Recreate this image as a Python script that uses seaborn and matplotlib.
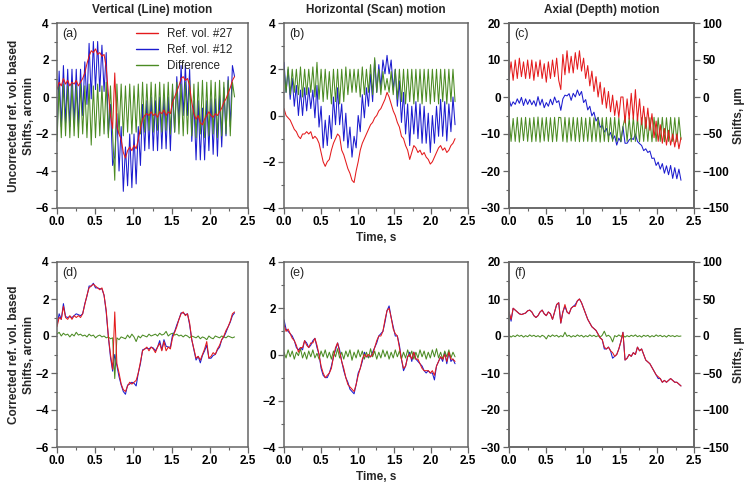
import numpy as np
import pandas as pd
import seaborn as sns
import matplotlib.pyplot as plt
from matplotlib.ticker import MultipleLocator

sns.set_style('ticks')
plt.rcParams['font.family'] = ['Liberation Sans', 'DejaVu Sans']
plt.rcParams['font.weight'] = 'bold'
plt.rcParams['axes.labelweight'] = 'bold'
plt.rcParams['axes.titleweight'] = 'bold'

# sampling step of the traces (s)
DT = 0.028

# ---- (a) vertical, uncorrected ----
a_red = [0.4, 0.8, 0.6, 1.0, 0.7, 0.9, 0.6, 0.8, 0.7, 0.9,
         0.6, 0.8, 1.0, 1.3, 1.8, 2.2, 2.5, 2.4, 2.6, 2.3,
         2.4, 2.2, 2.3, 1.6, 0.2, -1.0, -1.7, 1.3, -1.6, -2.0,
         -2.3, -3.0, -3.3, -2.9, -2.7, -2.9, -2.6, -2.8, -2.3, -1.7,
         -1.2, -1.0, -0.9, -1.0, -0.8, -1.0, -0.9, -1.1, -0.8, -0.9,
         -0.7, -1.0, -0.8, -0.9, -0.3, 0.0, 0.3, 0.6, 1.0, 1.1,
         0.9, 1.0, 0.6, -0.3, -0.9, -1.2, -1.0, -1.4, -1.5, -1.2,
         -1.0, -0.8, -1.0, -1.1, -0.9, -1.0, -0.8, -0.6, -0.3, -0.1,
         0.2, 0.5, 0.9, 1.1]
a_blue = [-2.0, 1.4, -1.6, 1.7, -1.4, 1.5, -1.6, 1.5, -1.4, 1.5,
          -1.6, 1.5, -1.0, 1.9, -0.4, 2.9, -0.1, 3.0, 0.4, 3.0,
          0.3, 2.8, 0.3, 2.4, -2.0, -0.4, -3.7, -3.2, -0.9, -4.0,
          -1.6, -5.1, -2.7, -4.8, -2.0, -4.9, -2.0, -4.7, -1.6, -3.7,
          -0.4, -2.9, -0.2, -2.8, 0.0, -2.9, -0.2, -2.9, 0.0, -2.8,
          0.0, -2.8, 0.0, -2.9, 0.4, -1.9, 1.1, -1.4, 1.7, -1.0,
          1.7, -1.0, 1.5, -2.4, -0.2, -3.4, -0.2, -3.4, -0.6, -3.4,
          -0.2, -2.9, -0.1, -3.1, -0.1, -3.2, 0.1, -2.7, 0.5, -2.1,
          1.1, -1.6, 1.7, 1.1]
a_diff = [-2.4, 0.6, -2.2, 0.7, -2.1, 0.6, -2.2, 0.7, -2.1, 0.6,
          -2.2, 0.7, -2.0, 0.6, -2.2, 0.7, -2.6, 0.6, -2.2, 0.7,
          -2.1, 0.6, -2.0, 0.8, -2.2, 0.6, -2.0, -4.5, 0.7, -2.0,
          0.7, -2.1, 0.6, -1.9, 0.7, -2.0, 0.6, -1.9, 0.7, -2.0,
          0.8, -1.9, 0.7, -1.8, 0.8, -1.9, 0.7, -1.8, 0.8, -1.9,
          0.7, -1.8, 0.8, -2.0, 0.7, -1.9, 0.8, -2.0, 0.7, -2.1,
          0.8, -2.0, 0.9, -2.1, 0.7, -2.2, 0.8, -2.0, 0.9, -2.2,
          0.8, -2.1, 0.9, -2.0, 0.8, -2.2, 0.9, -2.1, 0.8, -2.0,
          0.9, -2.1, 0.8, 0.0]

# ---- (b) horizontal, uncorrected ----
b_red = [0.3, 0.0, -0.1, -0.2, -0.4, -0.6, -0.7, -0.9, -1.0, -0.8,
         -0.8, -0.7, -0.8, -0.7, -1.0, -0.9, -1.0, -1.2, -1.6, -2.0,
         -2.2, -2.0, -1.9, -1.5, -1.2, -1.0, -0.8, -0.9, -1.5, -1.7,
         -2.0, -2.3, -2.5, -2.8, -2.9, -2.4, -2.0, -1.5, -1.2, -1.0,
         -0.8, -0.6, -0.4, -0.3, -0.1, 0.0, 0.2, 0.3, 0.5, 0.7,
         1.0, 0.8, 0.5, 0.2, 0.0, -0.3, -0.5, -0.9, -1.0, -1.3,
         -1.5, -1.9, -1.6, -1.3, -1.4, -1.6, -1.5, -1.7, -1.6, -1.8,
         -1.9, -2.1, -2.0, -1.8, -1.6, -1.4, -1.3, -1.5, -1.4, -1.6,
         -1.5, -1.3, -1.2, -1.0]
b_blue = [2.3, 1.0, 2.0, 0.7, 1.6, 0.4, 1.3, 0.0, 1.1, 0.0,
          1.2, 0.2, 1.2, 0.3, 1.1, -0.1, 1.3, -0.5, 0.4, -1.4,
          -0.2, -1.3, 0.0, -1.0, 0.8, -0.4, 1.2, -0.4, 0.5, -1.1,
          0.1, -1.4, -0.5, -1.8, -0.9, -1.4, 0.0, -0.7, 0.9, -0.1,
          1.2, 0.4, 1.8, 0.6, 2.4, 1.0, 2.2, 1.2, 2.4, 1.8,
          2.6, 1.8, 2.4, 1.1, 2.0, 0.4, 1.5, -0.3, 1.0, -0.8,
          0.5, -1.3, 0.4, -0.8, 0.6, -1.0, 0.5, -1.2, 0.4, -1.2,
          0.1, -1.6, 0.0, -1.2, 0.4, -0.9, 0.7, -0.9, 0.6, -1.1,
          0.5, -0.7, 0.8, -0.4]
b_diff = [2.0, 1.0, 2.1, 0.9, 2.0, 1.0, 2.0, 0.9, 2.1, 0.8,
          2.0, 0.9, 2.0, 1.0, 2.1, 0.8, 2.3, 0.7, 2.0, 0.6,
          2.0, 0.7, 1.9, 0.5, 2.0, 0.6, 2.0, 0.5, 2.0, 0.6,
          2.1, 0.9, 2.0, 1.0, 2.0, 1.0, 2.0, 0.8, 2.1, 0.9,
          2.0, 1.0, 2.2, 0.9, 2.5, 1.0, 2.0, 0.9, 1.9, 1.1,
          1.6, 1.0, 1.9, 0.9, 2.0, 0.7, 2.0, 0.6, 2.0, 0.5,
          2.0, 0.6, 2.0, 0.5, 2.0, 0.6, 2.0, 0.5, 2.0, 0.6,
          2.0, 0.5, 2.0, 0.6, 2.0, 0.5, 2.0, 0.6, 2.0, 0.5,
          2.0, 0.6, 2.0, 0.6]

# ---- (c) axial, uncorrected ----
c_red = [5.0, 9.5, 4.5, 10.0, 5.0, 10.5, 5.5, 9.5, 5.0, 10.0,
         5.0, 10.0, 4.5, 9.5, 5.5, 10.0, 5.0, 9.0, 4.0, 9.5,
         5.0, 10.0, 5.5, 10.5, 4.5, 2.0, 11.5, 6.0, 12.5, 6.5,
         11.0, 6.5, 12.0, 7.5, 12.5, 7.0, 10.5, 5.0, 8.5, 3.0,
         7.0, 1.5, 5.5, 0.0, 4.0, -2.0, 2.5, -3.0, 1.5, -4.0,
         0.5, -5.0, -1.0, -5.5, 0.0, 0.0, -7.0, -0.5, -6.0, 1.0,
         -6.0, 2.0, -6.5, -0.5, -7.5, -2.5, -8.5, -3.0, -9.0, -4.5,
         -11.0, -6.5, -12.0, -7.5, -12.5, -8.5, -13.0, -9.0, -13.0, -10.0,
         -13.5, -10.0, -14.0, -11.0]
c_blue = [-0.5, -2.5, -1.3, -2.0, -0.5, -1.7, -0.1, -2.3, -0.5, -2.0,
          -0.7, -2.1, -1.0, -2.5, 0.1, -2.2, -0.6, -2.9, -1.5, -2.5,
          -0.6, -2.1, 0.0, -1.5, -1.0, -3.6, -0.5, 0.5, 0.3, 0.9,
          -0.9, 1.0, 0.0, 1.9, 0.4, 1.5, -1.5, -0.7, -3.5, -2.5,
          -5.1, -4.1, -6.5, -5.5, -8.2, -7.6, -9.5, -8.5, -10.6, -9.6,
          -11.5, -10.5, -13.0, -11.1, -12.1, -8.0, -12.5, -12.5, -11.6, -11.1,
          -11.5, -10.0, -12.0, -12.6, -13.1, -14.5, -14.0, -15.0, -14.6, -16.6,
          -16.5, -18.5, -17.6, -19.5, -18.0, -20.6, -18.6, -21.0, -18.5, -22.0,
          -19.1, -22.1, -19.5, -22.5]
c_diff = [-5.5, -12.0, -5.8, -12.0, -5.5, -12.2, -5.6, -11.8, -5.5, -12.0,
          -5.7, -12.1, -5.5, -12.0, -5.4, -12.2, -5.6, -11.9, -5.5, -12.0,
          -5.6, -12.1, -5.5, -12.0, -5.5, -5.6, -12.0, -5.5, -12.2, -5.6,
          -11.9, -5.5, -12.0, -5.6, -12.1, -5.5, -12.0, -5.7, -12.0, -5.5,
          -12.1, -5.6, -12.0, -5.5, -12.2, -5.6, -12.0, -5.5, -12.1, -5.6,
          -12.0, -5.5, -12.0, -5.6, -12.1, -8.0, -5.5, -12.0, -5.6, -12.1,
          -5.5, -12.0, -5.5, -12.1, -5.6, -12.0, -5.5, -12.0, -5.6, -12.1,
          -5.5, -12.0, -5.6, -12.0, -5.5, -12.1, -5.6, -12.0, -5.5, -12.0,
          -5.6, -12.1, -5.5, -11.5]

# ---- (d) vertical, corrected ----
d_red = [0.5, 1.0, 0.9, 1.6, 1.0, 0.9, 1.1, 0.9, 1.1, 1.0,
         1.1, 1.0, 1.2, 1.7, 2.2, 2.6, 2.7, 2.8, 2.7, 2.6,
         2.5, 2.6, 2.2, 1.4, 0.0, -1.0, -1.8, 1.3, -1.5, -2.0,
         -2.6, -2.9, -3.0, -2.7, -2.5, -2.6, -2.5, -2.4, -2.0, -1.4,
         -0.8, -0.7, -0.6, -0.8, -0.6, -0.7, -0.9, -0.6, -0.4, -0.8,
         -0.3, -0.8, -0.6, -0.7, -0.1, 0.2, 0.5, 0.9, 1.2, 1.3,
         1.1, 1.2, 0.7, -0.2, -0.7, -1.2, -1.1, -1.3, -1.0, -0.7,
         -0.3, -1.2, -1.1, -0.9, -1.0, -0.7, -0.5, -0.2, 0.0, 0.3,
         0.5, 0.8, 1.2, 1.3]
d_blue = [0.6, 1.2, 0.9, 1.75, 1.05, 1.0, 1.05, 1.0, 1.1, 1.2,
          1.15, 1.1, 1.2, 1.75, 2.15, 2.7, 2.7, 2.85, 2.6, 2.6,
          2.55, 2.55, 2.2, 1.3, -0.05, -1.15, -1.9, -1.0, -1.6, -2.2,
          -2.65, -3.0, -3.15, -2.65, -2.6, -2.5, -2.55, -2.7, -2.0, -1.5,
          -0.75, -0.7, -0.65, -0.7, -0.6, -0.65, -0.8, -0.6, -0.25, -0.75,
          -0.2, -0.55, -0.6, -0.6, 0.05, 0.25, 0.6, 0.9, 1.25, 1.25,
          1.15, 1.2, 0.6, -0.2, -0.75, -1.3, -1.1, -1.45, -1.05, -0.8,
          -0.5, -1.2, -1.2, -1.05, -1.0, -0.75, -0.6, -0.2, -0.05, 0.2,
          0.5, 0.75, 1.1, 1.25]
d_diff = [0.1, 0.2, 0.0, 0.15, 0.05, 0.1, -0.05, 0.1, 0.0, 0.2,
          0.05, 0.1, 0.0, 0.05, -0.05, 0.1, 0.0, 0.05, -0.1, 0.0,
          0.05, -0.05, 0.0, -0.1, -0.05, -0.15, -0.1, -2.3, -0.1, -0.2,
          -0.05, -0.1, -0.15, 0.05, -0.1, 0.1, -0.05, -0.3, 0.0, -0.1,
          0.05, 0.0, -0.05, 0.1, 0.0, 0.05, 0.1, 0.0, 0.15, 0.05,
          0.1, 0.25, 0.0, 0.1, 0.15, 0.05, 0.1, 0.0, 0.05, -0.05,
          0.05, 0.0, -0.1, 0.0, -0.05, -0.1, 0.0, -0.15, -0.05, -0.1,
          -0.2, 0.0, -0.1, -0.15, 0.0, -0.05, -0.1, 0.0, -0.05, -0.1,
          0.0, -0.05, -0.1, -0.05]

# ---- (e) horizontal, corrected ----
e_red = [1.3, 1.0, 1.1, 0.9, 0.7, 0.6, 0.4, 0.1, 0.3, 0.3,
         0.6, 0.4, 0.3, 0.5, 0.5, 0.7, 0.4, 0.0, -0.5, -0.8,
         -1.0, -0.9, -0.8, -0.6, -0.1, 0.3, 0.5, 0.1, -0.3, -0.6,
         -1.0, -1.3, -1.4, -1.5, -1.6, -1.3, -0.9, -0.6, -0.2, 0.0,
         -0.1, 0.0, -0.1, 0.0, 0.3, 0.6, 0.8, 0.8, 1.0, 1.5,
         1.9, 2.0, 1.6, 1.1, 0.9, 0.8, 0.3, -0.2, -0.6, -0.5,
         -0.1, 0.0, -0.2, 0.1, -0.2, -0.2, -0.4, -0.6, -0.7, -0.7,
         -0.7, -0.8, -0.7, -0.9, -0.5, -0.3, -0.1, -0.2, 0.0, -0.3,
         0.1, -0.2, -0.2, -0.3]
e_blue = [1.5, 1.1, 1.0, 0.9, 0.8, 0.6, 0.3, 0.2, 0.3, 0.2,
          0.6, 0.5, 0.3, 0.4, 0.6, 0.7, 0.3, 0.0, -0.6, -0.9,
          -1.0, -1.0, -0.8, -0.5, -0.1, 0.2, 0.5, 0.2, -0.3, -0.7,
          -1.0, -1.2, -1.5, -1.6, -1.7, -1.3, -0.8, -0.6, -0.3, 0.1,
          -0.1, -0.1, -0.1, 0.1, 0.3, 0.5, 0.8, 0.9, 1.0, 1.4,
          1.9, 2.1, 1.6, 1.2, 0.8, 0.8, 0.4, -0.2, -0.7, -0.5,
          -0.1, 0.1, -0.3, 0.1, -0.2, -0.3, -0.4, -0.5, -0.7, -0.8,
          -0.7, -0.8, -0.8, -1.1, -0.5, -0.3, -0.1, -0.3, 0.1, -0.4,
          0.1, -0.3, -0.2, -0.4]
e_diff = [0.1, -0.15, 0.2, -0.1, 0.15, -0.2, 0.1, -0.05, 0.25, -0.15,
          0.1, -0.2, 0.15, -0.1, 0.2, -0.15, 0.05, -0.2, 0.15, -0.1,
          0.2, -0.15, 0.1, -0.2, 0.15, -0.1, 0.25, -0.15, 0.1, -0.2,
          0.15, -0.1, 0.2, -0.25, 0.1, -0.15, 0.2, -0.1, 0.15, -0.2,
          0.1, -0.15, 0.25, -0.1, 0.15, -0.2, 0.1, -0.15, 0.2, -0.1,
          0.15, -0.2, 0.1, -0.15, 0.2, -0.1, 0.15, -0.2, 0.1, -0.15,
          0.2, -0.1, 0.15, -0.2, 0.1, -0.15, 0.2, -0.1, 0.15, -0.2,
          0.1, -0.15, 0.2, -0.1, 0.25, -0.15, 0.1, -0.2, 0.15, -0.1,
          0.2, -0.15, 0.1, -0.1]

# ---- (f) axial, corrected ----
f_red = [6.5, 4.5, 7.5, 7.0, 6.5, 6.0, 5.8, 6.0, 6.2, 6.8,
         7.0, 6.5, 5.5, 5.0, 5.5, 6.5, 7.0, 6.0, 5.5, 6.5,
         6.0, 4.5, 6.5, 8.5, 9.0, 3.5, 6.5, 8.5, 6.5, 6.0,
         7.5, 8.0, 8.0, 9.5, 10.0, 9.0, 7.5, 6.0, 4.5, 3.5,
         2.5, 2.0, 1.5, 0.5, -0.5, -1.0, -3.0, -3.5, -3.0, -4.0,
         -4.5, -5.5, -5.0, -3.5, -1.5, 1.0, -6.5, -6.0, -5.0, -5.5,
         -4.5, -5.0, -3.0, -4.0, -3.5, -5.0, -6.5, -7.0, -7.5, -8.5,
         -9.5, -10.5, -11.0, -11.5, -12.5, -12.0, -12.5, -12.0, -11.5, -12.0,
         -12.5, -12.5, -13.0, -13.5]
f_blue = [6.5, 4.0, 7.5, 7.0, 6.5, 6.0, 5.8, 6.0, 6.2, 6.8,
          7.0, 6.5, 5.5, 5.0, 5.5, 6.5, 7.0, 6.0, 5.5, 6.5,
          6.0, 4.5, 6.5, 8.5, 9.0, 3.5, 6.5, 8.0, 6.5, 6.0,
          7.5, 8.0, 8.5, 9.5, 10.0, 9.0, 7.5, 6.0, 4.5, 3.5,
          2.5, 2.0, 1.5, 0.5, -0.5, -1.0, -3.5, -3.5, -3.0, -4.0,
          -6.0, -5.5, -5.0, -3.5, -1.5, 1.0, -6.5, -6.0, -5.0, -5.5,
          -4.5, -5.0, -3.0, -4.0, -3.5, -5.0, -6.5, -7.0, -7.5, -8.5,
          -9.5, -10.5, -11.5, -11.5, -12.5, -12.0, -12.5, -12.0, -11.5, -12.0,
          -12.5, -12.5, -13.0, -13.5]
f_diff = [0.2, -0.3, 0.1, -0.2, 0.3, -0.1, 0.2, -0.3, 0.1, -0.2,
          0.3, -0.1, 0.2, -0.2, 0.1, -0.3, 0.2, -0.1, -0.8, 0.2,
          -0.2, 0.3, -0.1, 0.2, -0.3, 0.1, -0.2, 1.0, -0.1, 0.2,
          -0.3, 0.1, -0.2, 0.3, -0.1, 0.2, -0.3, 0.1, -0.2, 0.3,
          -0.1, 0.2, -0.2, 0.1, -0.3, 0.2, 1.3, -0.1, 0.2, -0.3,
          -1.6, 0.1, -0.2, 0.3, -0.1, 0.2, -0.3, 0.1, -0.2, 0.2,
          -0.1, 0.3, -0.2, 0.1, -0.3, 0.2, -0.1, 0.2, -0.3, 0.1,
          -0.2, 0.3, -0.1, 0.2, -0.2, 0.1, -0.3, 0.2, -0.1, 0.1,
          -0.2, 0.1, -0.1, 0.0]

titles = ['Vertical (Line) motion', 'Horizontal (Scan) motion', 'Axial (Depth) motion']
tags = ['(a)', '(b)', '(c)', '(d)', '(e)', '(f)']
series_names = ['Ref. vol. #27', 'Ref. vol. #12', 'Difference']

RED = '#e41a1c'
BLUE = '#1c1ccf'
GREEN = '#4b8b23'
SPINE = '#666666'
LW = 0.75

panels = [
    (a_red, a_blue, a_diff, (-6, 4), 2),
    (b_red, b_blue, b_diff, (-4, 4), 2),
    (c_red, c_blue, c_diff, (-30, 20), 10),
    (d_red, d_blue, d_diff, (-6, 4), 2),
    (e_red, e_blue, e_diff, (-4, 4), 2),
    (f_red, f_blue, f_diff, (-30, 20), 10),
]

fig = plt.figure(figsize=(7.46, 4.87), dpi=100)
W, Hf = 746, 487
cols = [(57, 191), (284, 184), (509, 185)]
tops = [23, 262]
PH = 185


def style_axis(ax):
    for sp in ax.spines.values():
        sp.set_visible(True)
        sp.set_color(SPINE)
        sp.set_linewidth(1.1)
    ax.tick_params(which='major', direction='out', length=4, width=0.9,
                   color=SPINE, labelsize=8.5, pad=2, labelcolor='black')
    ax.tick_params(which='minor', direction='out', length=2.5, width=0.8, color=SPINE)


for k, (red, blue, diff, ylim, ystep) in enumerate(panels):
    r, c = divmod(k, 3)
    left, w = cols[c]
    ax = fig.add_axes([left / W, 1 - (tops[r] + PH) / Hf, w / W, PH / Hf])
    t = np.arange(len(red)) * DT
    # blue first, then difference, red on top
    df = pd.DataFrame({'Time': np.concatenate([t, t, t]),
                       'Shift': np.concatenate([blue, diff, red]),
                       'Series': ['Ref. vol. #12'] * len(t) + ['Difference'] * len(t)
                       + ['Ref. vol. #27'] * len(t)})
    sns.lineplot(data=df, x='Time', y='Shift', hue='Series',
                 palette={'Ref. vol. #27': RED, 'Ref. vol. #12': BLUE, 'Difference': GREEN},
                 estimator=None, sort=False, lw=LW, ax=ax, legend=(k == 0))
    ax.set_xlim(0, 2.5)
    ax.set_ylim(*ylim)
    ax.xaxis.set_major_locator(MultipleLocator(0.5))
    ax.xaxis.set_minor_locator(MultipleLocator(0.25))
    ax.yaxis.set_major_locator(MultipleLocator(ystep))
    ax.yaxis.set_minor_locator(MultipleLocator(ystep / 2))
    ax.xaxis.set_major_formatter(plt.FormatStrFormatter('%.1f'))
    style_axis(ax)
    ax.set_xlabel('Time, s' if c == 1 else '', fontsize=8.5, labelpad=3)
    ax.set_ylabel('')
    ax.text(0.03, 0.975, tags[k], transform=ax.transAxes, ha='left', va='top',
            fontsize=9, fontweight='normal')
    if r == 0:
        ax.set_title(titles[c], fontsize=8.5, pad=7)
    if c == 0:
        ax.set_ylabel(['Uncorrected ref. vol. based', 'Corrected ref. vol. based'][r]
                      + '\nShifts, arcmin', fontsize=8.5, labelpad=0, linespacing=1.4)
    if c == 2:
        ax2 = ax.twinx()
        ax2.set_ylim(ylim[0] * 5, ylim[1] * 5)
        ax2.yaxis.set_major_locator(MultipleLocator(50))
        ax2.yaxis.set_minor_locator(MultipleLocator(25))
        style_axis(ax2)
        ax2.set_ylabel('Shifts, µm', fontsize=8.5, labelpad=3)
        ax2.grid(False)
    if k == 0:
        handles, labels = ax.get_legend_handles_labels()
        order = [labels.index(n) for n in series_names]
        leg = ax.legend([handles[i] for i in order], series_names, frameon=False,
                        loc='upper right', bbox_to_anchor=(0.92, 0.975),
                        borderpad=0, borderaxespad=0, handlelength=1.9,
                        handletextpad=0.8, labelspacing=0.38,
                        prop={'size': 8.4, 'weight': 'normal'})
        for ln in leg.get_lines():
            ln.set_linewidth(1.0)

fig.savefig('out.png', dpi=100)
